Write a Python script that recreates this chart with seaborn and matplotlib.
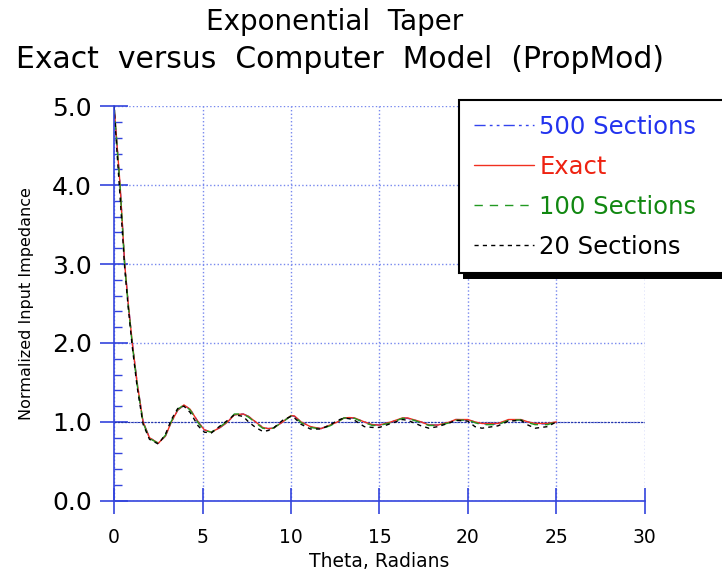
import matplotlib
matplotlib.use("Agg")
import matplotlib.pyplot as plt
import seaborn as sns
from matplotlib.patches import Rectangle
from matplotlib.ticker import MultipleLocator, FormatStrFormatter

# values
theta = [0, 0.17, 0.34, 0.6, 0.8, 1.03, 1.3, 1.64, 2.0, 2.5, 2.9, 3.24, 3.6,
         3.95, 4.3, 4.75, 5.1, 5.5, 6.0, 6.42, 6.8, 7.3, 7.6, 8.0, 8.4, 8.7,
         9.0, 9.53, 10.0, 10.2, 10.57, 11.1, 11.7, 12.2, 12.64, 13.0, 13.3,
         13.6, 14.15, 14.6, 15.0, 15.66, 16.3, 16.6, 17.36, 17.8, 18.3, 19.0,
         19.3, 20.0, 20.4, 20.8, 21.7, 22.3, 23.0, 23.4, 23.8, 24.5, 25.0]

exact = [5.0, 4.5, 4.0, 3.0, 2.5, 2.0, 1.5, 1.0, 0.8, 0.73, 0.82, 1.0, 1.15,
         1.215, 1.16, 1.0, 0.9, 0.87, 0.93, 1.0, 1.09, 1.10, 1.07, 1.0, 0.93,
         0.915, 0.92, 1.0, 1.08, 1.075, 1.0, 0.94, 0.915, 0.96, 1.0, 1.05,
         1.055, 1.05, 1.0, 0.965, 0.96, 1.0, 1.05, 1.05, 1.0, 0.96, 0.96, 1.0,
         1.03, 1.03, 1.0, 0.98, 0.98, 1.03, 1.03, 1.0, 0.98, 0.98, 1.0]

sec500 = [5.0, 4.5, 4.0, 3.0, 2.5, 2.0, 1.5, 1.0, 0.8, 0.73, 0.82, 1.0, 1.15,
          1.21, 1.16, 1.0, 0.9, 0.87, 0.93, 1.0, 1.09, 1.10, 1.07, 1.0, 0.93,
          0.915, 0.92, 1.0, 1.08, 1.07, 1.0, 0.94, 0.915, 0.96, 1.0, 1.05,
          1.05, 1.045, 1.0, 0.965, 0.96, 1.0, 1.045, 1.045, 1.0, 0.96, 0.96,
          1.0, 1.03, 1.025, 1.0, 0.975, 0.97, 1.02, 1.025, 1.0, 0.975, 0.975, 1.0]

sec100 = [5.0, 4.48, 3.98, 2.98, 2.48, 1.98, 1.48, 0.99, 0.79, 0.73, 0.83, 1.01,
          1.16, 1.215, 1.15, 0.99, 0.89, 0.87, 0.94, 1.01, 1.10, 1.10, 1.06,
          0.99, 0.92, 0.91, 0.92, 1.0, 1.075, 1.07, 0.99, 0.93, 0.91, 0.95, 1.0,
          1.05, 1.055, 1.045, 0.99, 0.955, 0.955, 0.99, 1.045, 1.045, 0.99,
          0.955, 0.955, 0.99, 1.02, 1.025, 0.99, 0.965, 0.965, 1.02, 1.025,
          0.99, 0.965, 0.965, 1.0]

sec20 = [5.0, 4.4, 3.85, 2.95, 2.45, 1.95, 1.45, 0.97, 0.78, 0.72, 0.84, 1.03,
         1.17, 1.2, 1.12, 0.95, 0.87, 0.86, 0.95, 1.02, 1.09, 1.07, 1.0, 0.93,
         0.88, 0.89, 0.92, 1.02, 1.07, 1.05, 0.97, 0.91, 0.91, 0.96, 1.02,
         1.05, 1.04, 1.02, 0.94, 0.93, 0.93, 0.98, 1.03, 1.02, 0.95, 0.92,
         0.94, 0.99, 1.02, 1.01, 0.94, 0.92, 0.95, 1.01, 1.02, 0.96, 0.92,
         0.94, 1.0]

labels = ["500 Sections", "Exact", "100 Sections", "20 Sections"]
text_colors = ["#2233ee", "#ee2211", "#118811", "black"]

sns.set_style("white")
plt.rcParams["font.family"] = ["DejaVu Sans"]
plt.rcParams["text.color"] = "black"
plt.rcParams["axes.labelcolor"] = "black"

blue = "#3344dd"
fig = plt.figure(figsize=(7.22, 5.77), dpi=100, facecolor="white")
ax = fig.add_axes([0.158, 0.132, 0.735, 0.684])

sns.lineplot(x=theta, y=sec500, ax=ax, color="#3344ee", lw=1,
             linestyle=(0, (8, 3, 2, 3, 2, 3)), label=labels[0])
sns.lineplot(x=theta, y=exact, ax=ax, color="#f03020", lw=1, label=labels[1])
sns.lineplot(x=theta, y=sec100, ax=ax, color="#229922", lw=1,
             linestyle=(0, (6, 5)), label=labels[2])
sns.lineplot(x=theta, y=sec20, ax=ax, color="black", lw=1,
             linestyle=(0, (3, 3)), label=labels[3])

ax.set_xlim(0, 30)
ax.set_ylim(0, 5)
ax.xaxis.set_major_locator(MultipleLocator(5))
ax.yaxis.set_major_locator(MultipleLocator(1))
ax.yaxis.set_minor_locator(MultipleLocator(0.2))
ax.yaxis.set_major_formatter(FormatStrFormatter("%.1f"))

ax.grid(True, which="major", color="#7788ee", linestyle=":", lw=1)
ax.axhline(1.0, color="#2233aa", linestyle=(0, (2, 1)), lw=0.8, zorder=1)

for side in ["top", "right"]:
    ax.spines[side].set_visible(False)
for side in ["left", "bottom"]:
    ax.spines[side].set_color(blue)
    ax.spines[side].set_linewidth(1.2)

ax.tick_params(axis="y", which="major", direction="inout", length=20,
               width=1.2, color=blue, labelcolor="black", labelsize=18,
               pad=6, left=True)
ax.tick_params(axis="y", which="minor", direction="in", length=6,
               width=1, color=blue, left=True)
ax.tick_params(axis="x", which="major", direction="inout", length=19,
               width=1.2, color=blue, labelcolor="black", labelsize=13.5,
               pad=10, bottom=True)

ax.set_ylabel("Normalized Input Impedance", fontsize=11.5, labelpad=13)
ax.set_xlabel("Theta, Radians", fontsize=13.5, labelpad=4)

fig.text(0.463, 1 - 22 / 577, "Exponential  Taper", ha="center", va="center",
         fontsize=20)
fig.text(0.471, 1 - 60 / 577, "Exact  versus  Computer  Model  (PropMod)",
         ha="center", va="center", fontsize=21.5)

# legend box runs off the right edge of the figure, as in the reference
leg = ax.legend(loc="upper left",
                bbox_to_anchor=(459 / 722, 0.5, 0.4, 1 - 100 / 577 - 0.5),
                bbox_transform=fig.transFigure, mode="expand", fontsize=17.5,
                frameon=True, fancybox=False, edgecolor="black", framealpha=1,
                handlelength=2.5, handletextpad=0.2, labelspacing=0.66,
                borderpad=0.6, borderaxespad=0, labelcolor=text_colors)
leg.get_frame().set_linewidth(1.5)

# black drop shadow behind legend box
fig.canvas.draw()
bb = leg.get_window_extent()
shadow = Rectangle((bb.x0 + 4, bb.y0 - 6), bb.width, bb.height,
                   transform=None, facecolor="black", edgecolor="none",
                   clip_on=False, zorder=leg.get_zorder() - 0.1)
ax.add_patch(shadow)

fig.savefig("out.png", dpi=100, facecolor="white")
